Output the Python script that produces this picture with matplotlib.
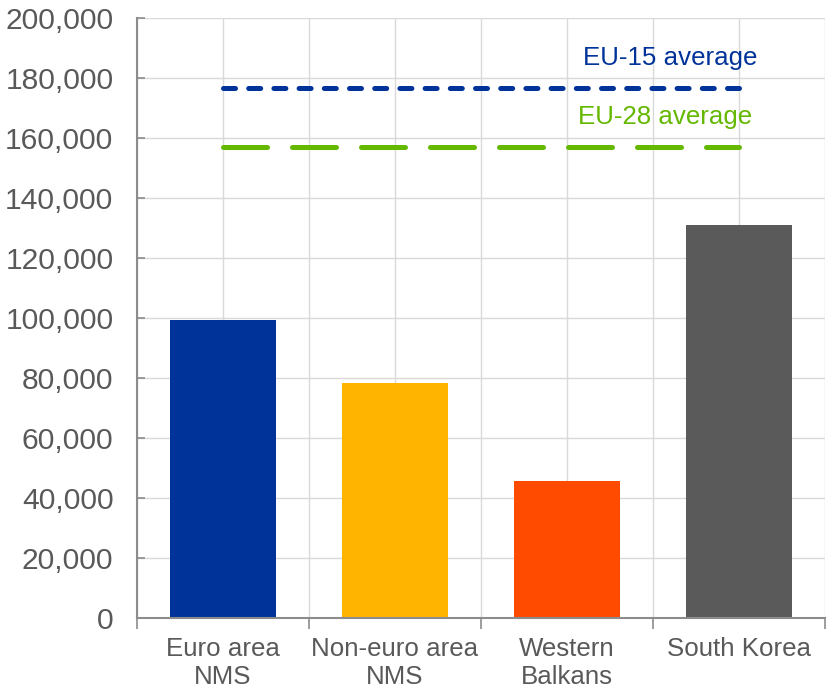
import matplotlib
matplotlib.use("Agg")
import matplotlib.pyplot as plt
import matplotlib.ticker as mticker
import numpy as np

# values per region
regions = ["Euro area\nNMS", "Non-euro area\nNMS", "Western\nBalkans", "South Korea"]
values = [99300, 78300, 45700, 131000]
bar_colors = ["#003399", "#FFB400", "#FF4B00", "#5A5A5A"]

eu15_avg = 176800
eu28_avg = 157100

plt.rcParams["font.family"] = ["Liberation Sans", "DejaVu Sans"]
text_grey = "#595959"
axis_grey = "#8C8C8C"

fig = plt.figure(figsize=(8.27, 6.91), dpi=100)
ax = fig.add_axes([137 / 827, 73 / 691, 688 / 827, 600 / 691])

x = np.arange(len(regions))
ax.bar(x, values, width=0.62, color=bar_colors, zorder=2)

# average lines run from first to last category centre
l15, = ax.plot([x[0], x[-1]], [eu15_avg, eu15_avg], color="#003399", lw=3.6,
               dash_capstyle="round", zorder=3)
l15.set_dashes([2.4, 2.64])
l28, = ax.plot([x[0], x[-1]], [eu28_avg, eu28_avg], color="#65B800", lw=3.6,
               dash_capstyle="round", zorder=3)
l28.set_dashes([8.8, 5.0])

ax.text(2.6, 186700, "EU-15 average", color="#003399", fontsize=18.6,
        ha="center", va="center")
ax.text(2.57, 167000, "EU-28 average", color="#65B800", fontsize=18.6,
        ha="center", va="center")

ax.set_xlim(-0.5, 3.5)
ax.set_ylim(0, 200000)

ax.yaxis.set_major_locator(mticker.MultipleLocator(20000))
ax.yaxis.set_major_formatter(mticker.FuncFormatter(lambda v, p: f"{int(v):,}"))
ax.tick_params(axis="y", direction="in", length=6, width=1.2, color=axis_grey,
               labelsize=21.6, labelcolor=text_grey, pad=17)

ax.set_xticks(x)
ax.set_xticklabels(regions)
ax.set_xticks(np.arange(-0.5, 4, 1.0), minor=True)
ax.tick_params(axis="x", which="major", length=0, labelsize=18.6,
               labelcolor=text_grey, pad=14)
ax.tick_params(axis="x", which="minor", direction="out", length=8, width=1.2,
               color=axis_grey)

# grid: horizontal at every 20k, vertical at every half category
ax.set_axisbelow(True)
ax.grid(axis="y", color="#D9D9D9", lw=1.0)
for gx in np.arange(-0.5, 3.6, 0.5):
    ax.axvline(gx, color="#D9D9D9", lw=1.0, zorder=0)

for side in ["top", "right"]:
    ax.spines[side].set_visible(False)
for side in ["left", "bottom"]:
    ax.spines[side].set_color(axis_grey)
    ax.spines[side].set_linewidth(1.5)
    ax.spines[side].set_zorder(4)

fig.savefig("out.png", dpi=100)
